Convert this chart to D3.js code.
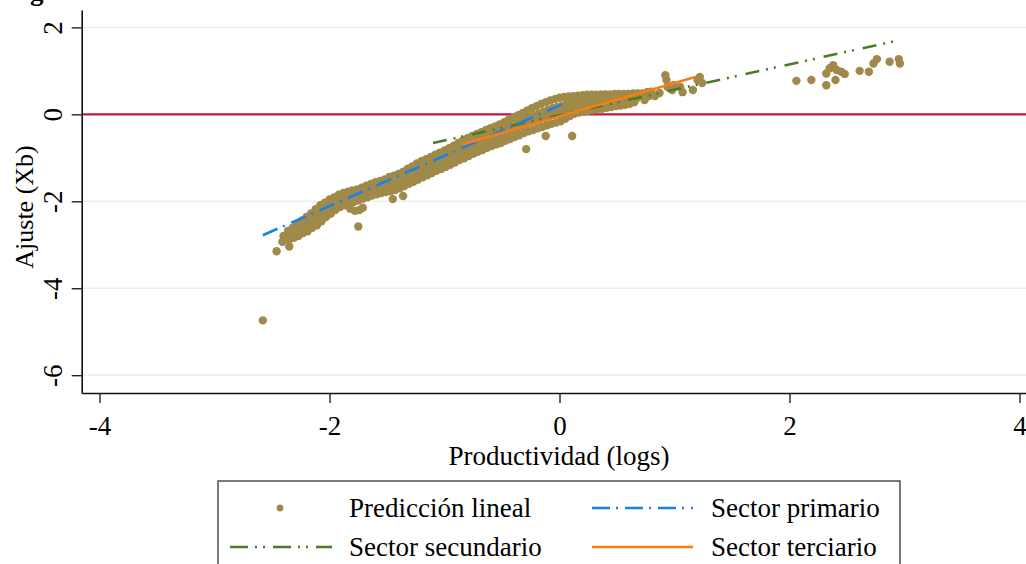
<!DOCTYPE html>
<html lang="es">
<head>
<meta charset="utf-8">
<script src="https://cdn.jsdelivr.net/npm/d3@7"></script>
<style>
  html, body { margin: 0; padding: 0; background: #fff; }
  svg { display: block; font-family: "Liberation Serif", "Times New Roman", serif; }
</style>
</head>
<body>
<svg id="chart" width="1026" height="564"></svg>
<script>
// Ticks shown on each axis
const xTicks = [-4, -2, 0, 2, 4];
const yTicks = [-6, -4, -2, 0, 2];

// Linear prediction (Xb) against log productivity, one pair per firm
const prediccion = [
  [-2.58,-4.74],[-2.46,-3.15],[-2.35,-3.04],[-1.75,-2.58],
  [-1.82,-2.17],[-1.78,-2.22],[-1.74,-2.20],[-1.71,-2.15],
  [-2.40,-2.80],[-2.38,-2.86],[-2.41,-2.93],
  [-2.36,-2.68],[-2.34,-2.75],[-2.37,-2.82],[-2.35,-2.88],
  [-2.32,-2.61],[-2.30,-2.69],[-2.33,-2.76],[-2.31,-2.84],
  [-2.28,-2.53],[-2.26,-2.62],[-2.29,-2.71],[-2.27,-2.80],
  [-2.24,-2.44],[-2.22,-2.54],[-2.25,-2.63],[-2.23,-2.73],
  [-2.20,-2.36],[-2.18,-2.47],[-2.21,-2.58],[-2.19,-2.69],
  [-2.16,-2.28],[-2.14,-2.39],[-2.17,-2.50],[-2.15,-2.61],
  [-2.12,-2.18],[-2.10,-2.31],[-2.13,-2.43],[-2.11,-2.55],
  [-2.08,-2.09],[-2.06,-2.22],[-2.09,-2.34],[-2.07,-2.46],
  [-2.04,-2.03],[-2.02,-2.14],[-2.05,-2.25],[-2.03,-2.36],
  [-2.00,-1.96],[-1.98,-2.07],[-2.01,-2.18],[-1.99,-2.29],
  [-1.96,-1.91],[-1.94,-2.01],[-1.97,-2.10],[-1.95,-2.20],
  [-1.92,-1.85],[-1.90,-1.95],[-1.93,-2.04],[-1.91,-2.13],
  [-1.88,-1.81],[-1.86,-1.91],[-1.89,-2.00],[-1.87,-2.09],
  [-1.84,-1.78],[-1.82,-1.88],[-1.85,-1.97],[-1.83,-2.06],
  [-1.80,-1.75],[-1.78,-1.84],[-1.81,-1.93],[-1.79,-2.02],
  [-1.76,-1.73],[-1.74,-1.81],[-1.77,-1.90],[-1.75,-1.98],
  [-1.72,-1.69],[-1.70,-1.77],[-1.73,-1.86],[-1.71,-1.94],
  [-1.68,-1.64],[-1.66,-1.73],[-1.69,-1.82],[-1.67,-1.91],
  [-1.64,-1.60],[-1.62,-1.69],[-1.65,-1.78],[-1.63,-1.87],
  [-1.60,-1.56],[-1.58,-1.66],[-1.61,-1.75],[-1.59,-1.84],
  [-1.56,-1.53],[-1.54,-1.63],[-1.57,-1.72],[-1.55,-1.81],
  [-1.52,-1.50],[-1.50,-1.60],[-1.53,-1.69],[-1.51,-1.79],
  [-1.48,-1.44],[-1.46,-1.55],[-1.49,-1.66],[-1.47,-1.77],
  [-1.44,-1.41],[-1.42,-1.52],[-1.45,-1.63],[-1.43,-1.74],
  [-1.40,-1.37],[-1.38,-1.48],[-1.41,-1.59],[-1.39,-1.70],
  [-1.36,-1.32],[-1.34,-1.43],[-1.37,-1.54],[-1.35,-1.65],
  [-1.32,-1.25],[-1.30,-1.37],[-1.33,-1.48],[-1.31,-1.60],
  [-1.28,-1.20],[-1.26,-1.32],[-1.29,-1.43],[-1.27,-1.55],
  [-1.24,-1.13],[-1.22,-1.26],[-1.25,-1.38],[-1.23,-1.50],
  [-1.20,-1.08],[-1.18,-1.21],[-1.21,-1.33],[-1.19,-1.45],
  [-1.16,-1.03],[-1.14,-1.16],[-1.17,-1.28],[-1.15,-1.40],
  [-1.12,-0.98],[-1.10,-1.11],[-1.13,-1.23],[-1.11,-1.35],
  [-1.08,-0.93],[-1.06,-1.06],[-1.09,-1.18],[-1.07,-1.30],
  [-1.04,-0.88],[-1.02,-1.00],[-1.05,-1.13],[-1.03,-1.26],
  [-1.00,-0.83],[-0.98,-0.95],[-1.01,-1.08],[-0.99,-1.21],
  [-0.96,-0.78],[-0.94,-0.90],[-0.97,-1.03],[-0.95,-1.16],
  [-0.92,-0.72],[-0.90,-0.85],[-0.93,-0.98],[-0.91,-1.11],
  [-0.88,-0.66],[-0.86,-0.79],[-0.89,-0.92],[-0.87,-1.05],
  [-0.84,-0.60],[-0.82,-0.74],[-0.85,-0.88],[-0.83,-1.01],
  [-0.80,-0.55],[-0.78,-0.69],[-0.81,-0.83],[-0.79,-0.96],
  [-0.76,-0.50],[-0.74,-0.64],[-0.77,-0.78],[-0.75,-0.91],
  [-0.72,-0.45],[-0.70,-0.59],[-0.73,-0.73],[-0.71,-0.86],
  [-0.68,-0.41],[-0.66,-0.55],[-0.69,-0.69],[-0.67,-0.82],
  [-0.64,-0.36],[-0.62,-0.50],[-0.65,-0.64],[-0.63,-0.77],
  [-0.60,-0.32],[-0.58,-0.46],[-0.61,-0.60],[-0.59,-0.73],
  [-0.56,-0.28],[-0.54,-0.42],[-0.57,-0.56],[-0.55,-0.69],
  [-0.52,-0.23],[-0.50,-0.38],[-0.53,-0.52],[-0.51,-0.66],
  [-0.48,-0.18],[-0.46,-0.33],[-0.49,-0.47],[-0.47,-0.61],
  [-0.44,-0.12],[-0.42,-0.27],[-0.45,-0.42],[-0.43,-0.57],
  [-0.40,-0.07],[-0.38,-0.22],[-0.41,-0.37],[-0.39,-0.52],
  [-0.36,-0.02],[-0.34,-0.17],[-0.37,-0.32],[-0.35,-0.48],
  [-0.32,0.03],[-0.30,-0.12],[-0.33,-0.27],[-0.31,-0.43],
  [-0.28,0.09],[-0.26,-0.07],[-0.29,-0.23],[-0.27,-0.39],
  [-0.24,0.14],[-0.22,-0.03],[-0.25,-0.19],[-0.23,-0.36],
  [-0.20,0.19],[-0.18,0.02],[-0.21,-0.15],[-0.19,-0.32],
  [-0.16,0.24],[-0.14,0.06],[-0.17,-0.12],[-0.15,-0.29],
  [-0.12,0.28],[-0.10,0.10],[-0.13,-0.08],[-0.11,-0.25],
  [-0.08,0.32],[-0.06,0.14],[-0.09,-0.04],[-0.07,-0.22],
  [-0.04,0.35],[-0.02,0.17],[-0.05,-0.01],[-0.03,-0.19],
  [0.00,0.38],[0.02,0.20],[-0.01,0.02],[0.01,-0.16],
  [0.04,0.40],[0.06,0.24],[0.03,0.07],[0.05,-0.10],
  [0.08,0.41],[0.10,0.26],[0.07,0.11],[0.09,-0.04],
  [0.12,0.42],[0.14,0.28],[0.11,0.15],[0.13,0.01],
  [0.16,0.43],[0.18,0.30],[0.15,0.17],[0.17,0.04],
  [0.20,0.44],[0.22,0.32],[0.19,0.19],[0.21,0.06],
  [0.24,0.45],[0.26,0.33],[0.23,0.20],[0.25,0.08],
  [0.28,0.45],[0.30,0.33],[0.27,0.22],[0.29,0.10],
  [0.32,0.45],[0.34,0.34],[0.31,0.23],[0.33,0.12],
  [0.36,0.46],[0.38,0.35],[0.35,0.24],[0.37,0.13],
  [0.40,0.46],[0.42,0.36],[0.39,0.25],[0.41,0.15],
  [0.44,0.46],[0.46,0.37],[0.43,0.27],[0.45,0.17],
  [0.48,0.47],[0.50,0.37],[0.47,0.28],[0.49,0.19],
  [0.52,0.47],[0.54,0.38],[0.51,0.29],[0.53,0.20],
  [0.56,0.47],[0.58,0.39],[0.55,0.31],[0.57,0.22],
  [0.60,0.47],[0.62,0.40],[0.59,0.32],[0.61,0.24],
  [0.64,0.48],[0.66,0.41],[0.63,0.34],[0.65,0.28],
  [0.68,0.48],[0.70,0.43],[0.67,0.37],
  [0.72,0.48],[0.74,0.44],[0.76,0.51],[0.78,0.42],[0.80,0.52],
  [0.70,0.44],[0.74,0.33],[0.83,0.42],
  [-0.29,-0.80],[-0.12,-0.50],[0.11,-0.50],[-1.45,-1.95],[-1.36,-1.88],
  [0.79,0.51],[0.87,0.49],[0.92,0.90],[0.93,0.79],[0.94,0.63],[0.98,0.56],
  [0.99,0.67],[1.05,0.63],[1.07,0.51],[1.16,0.56],[1.20,0.79],[1.22,0.86],[1.24,0.72],
  [2.06,0.77],[2.19,0.79],[2.32,0.67],[2.32,0.94],[2.35,1.06],[2.38,1.13],
  [2.41,1.02],[2.45,0.98],[2.48,0.93],[2.40,0.79],[2.61,1.00],[2.69,0.98],
  [2.73,1.17],[2.76,1.27],[2.87,1.21],[2.95,1.27],[2.96,1.17]
];

// Sector fit lines: endpoints in (log productivity, Xb)
const sectorPrimario   = [[-2.58, -2.78], [0.05, 0.26]];
const sectorSecundario = [[-1.10, -0.66], [2.96, 1.71]];
const sectorTerciario  = [[-0.84, -0.69], [1.18, 0.86]];

const legendLabels = ["Predicción lineal", "Sector primario", "Sector secundario", "Sector terciario"];

const svg = d3.select("#chart");
const font = '"Liberation Serif", "Times New Roman", serif';

const x = d3.scaleLinear().domain([-4.155, 4.1]).range([81.7, 1031]);
const y = d3.scaleLinear().domain([-6.41, 2.4]).range([393, 10]);

const colors = {
  points: "#a08a4a",
  primario: "#1c80ea",
  secundario: "#4e7a28",
  terciario: "#fa7d12",
  zero: "#c9143f",
  grid: "#e7eff1"
};

// Tick labels keep a plain hyphen for negatives
const plainNumber = d => String(d);

// Horizontal gridlines
svg.append("g")
  .selectAll("line")
  .data(yTicks)
  .join("line")
  .attr("x1", x(-4.155)).attr("x2", 1026)
  .attr("y1", d => y(d)).attr("y2", d => y(d))
  .attr("stroke", colors.grid).attr("stroke-width", 1.5);

// Reference line at zero
svg.append("line")
  .attr("x1", x(-4.155)).attr("x2", 1026)
  .attr("y1", y(0)).attr("y2", y(0))
  .attr("stroke", colors.zero).attr("stroke-width", 2.2);

// Scatter of predicted values
svg.append("g")
  .selectAll("circle")
  .data(prediccion)
  .join("circle")
  .attr("cx", d => x(d[0]))
  .attr("cy", d => y(d[1]))
  .attr("r", 4.2)
  .attr("fill", colors.points);

const line = d3.line().x(d => x(d[0])).y(d => y(d[1]));
const fits = [
  { data: sectorSecundario, color: colors.secundario, dash: "14,7,2,6,2,9" },
  { data: sectorPrimario,   color: colors.primario,   dash: "16,6,2,7" },
  { data: sectorTerciario,  color: colors.terciario,  dash: null }
];
svg.append("g")
  .selectAll("path")
  .data(fits)
  .join("path")
  .attr("d", d => line(d.data))
  .attr("fill", "none")
  .attr("stroke", d => d.color)
  .attr("stroke-width", 2.6)
  .attr("stroke-dasharray", d => d.dash);

// Axes
const yAxis = svg.append("g")
  .attr("transform", `translate(${x(-4.155)},0)`)
  .call(d3.axisLeft(y).tickValues(yTicks).tickSize(10).tickSizeOuter(0).tickFormat(plainNumber));
yAxis.selectAll("text")
  .attr("transform", "rotate(-90)")
  .attr("x", 0).attr("y", -20).attr("dy", 0)
  .attr("text-anchor", "middle");

const xAxis = svg.append("g")
  .attr("transform", `translate(0,${y(-6.41)})`)
  .call(d3.axisBottom(x).tickValues(xTicks).tickSize(10).tickSizeOuter(0).tickFormat(plainNumber));
xAxis.selectAll("text").attr("y", 42).attr("dy", 0);

[yAxis, xAxis].forEach(a => {
  a.select(".domain").attr("stroke", "#111").attr("stroke-width", 1.6);
  a.selectAll(".tick line").attr("stroke", "#222").attr("stroke-width", 1.4);
  a.selectAll("text").attr("fill", "#000").style("font-family", font).style("font-size", "27px");
});

// Axis titles
svg.append("text")
  .attr("transform", `translate(33,207) rotate(-90)`)
  .attr("text-anchor", "middle")
  .style("font-size", "26px").attr("fill", "#000")
  .text("Ajuste (Xb)");

svg.append("text")
  .attr("x", 559).attr("y", 465)
  .attr("text-anchor", "middle")
  .style("font-size", "27px").attr("fill", "#000")
  .text("Productividad (logs)");

// Figure heading, sitting above the visible area
svg.append("text")
  .attr("x", 6).attr("y", 0)
  .style("font-size", "27px").style("font-weight", "bold").attr("fill", "#000")
  .text("Figura");

// Legend
const legend = svg.append("g");
legend.append("rect")
  .attr("x", 218).attr("y", 481).attr("width", 682).attr("height", 120)
  .attr("fill", "#fff").attr("stroke", "#333").attr("stroke-width", 1.3);

const rows = [508, 547];
legend.append("circle").attr("cx", 280).attr("cy", rows[0]).attr("r", 3.4).attr("fill", colors.points);
const legendLines = [
  { x1: 592, x2: 693, yy: rows[0], color: colors.primario, dash: "18,6,2,7" },
  { x1: 230, x2: 332, yy: rows[1], color: colors.secundario, dash: "18,7,2,6,2,8" },
  { x1: 592, x2: 693, yy: rows[1], color: colors.terciario, dash: null }
];
legend.selectAll("line.sample")
  .data(legendLines)
  .join("line")
  .attr("class", "sample")
  .attr("x1", d => d.x1).attr("x2", d => d.x2)
  .attr("y1", d => d.yy).attr("y2", d => d.yy)
  .attr("stroke", d => d.color).attr("stroke-width", 2.6)
  .attr("stroke-dasharray", d => d.dash);

const legendText = [
  { t: legendLabels[0], lx: 349, yy: rows[0] },
  { t: legendLabels[1], lx: 711, yy: rows[0] },
  { t: legendLabels[2], lx: 349, yy: rows[1] },
  { t: legendLabels[3], lx: 711, yy: rows[1] }
];
legend.selectAll("text")
  .data(legendText)
  .join("text")
  .attr("x", d => d.lx).attr("y", d => d.yy + 9)
  .style("font-size", "27px").attr("fill", "#000")
  .text(d => d.t);
</script>
</body>
</html>
